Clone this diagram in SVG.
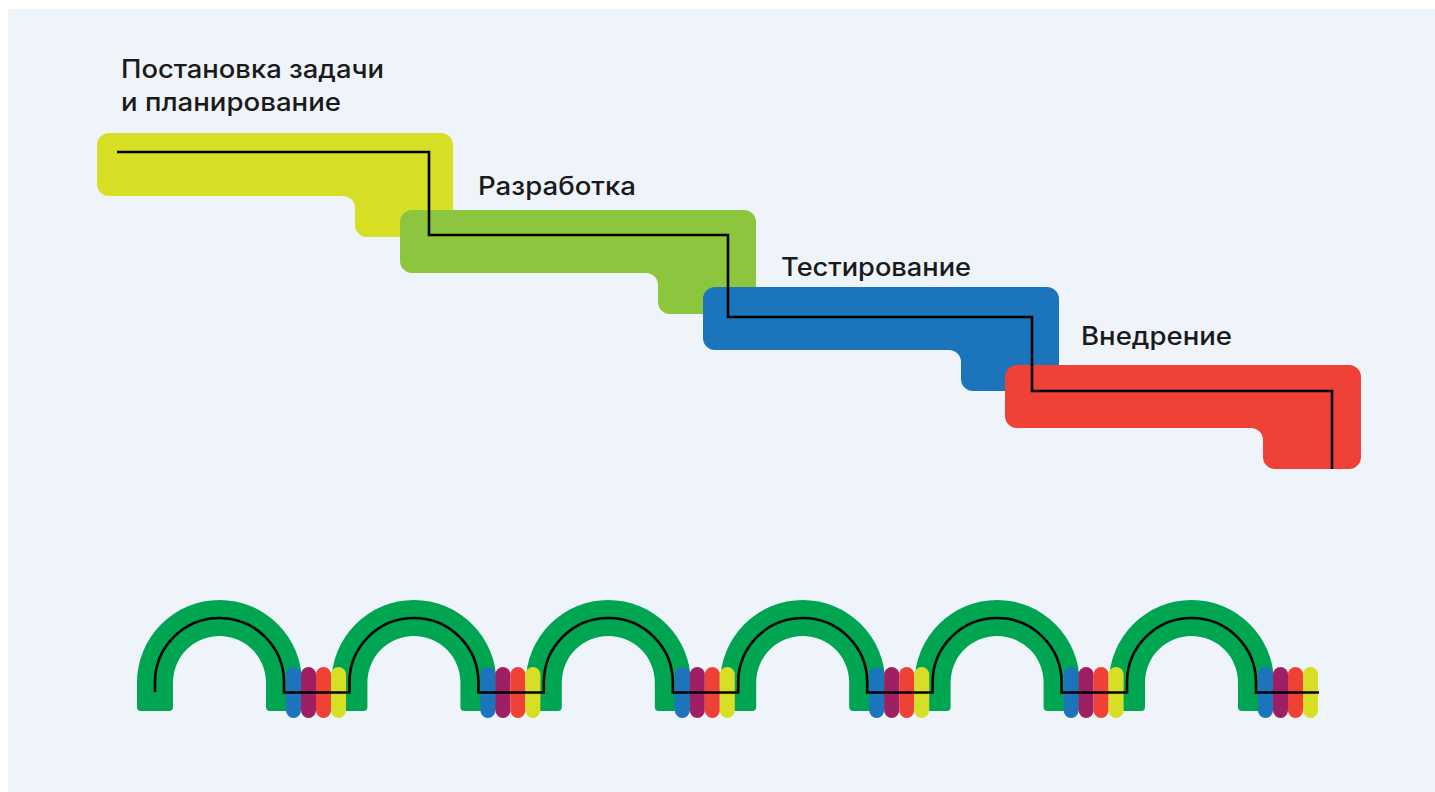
<svg xmlns="http://www.w3.org/2000/svg" xmlns:xlink="http://www.w3.org/1999/xlink" width="1435" height="792" viewBox="0 0 1435 792">
  <style>
    .label { font-family: Inter, "Noto Sans", "Liberation Sans", sans-serif; font-size: 25.5px; font-weight: 500; fill: #1a1a1a; }
    .path-line { fill: none; stroke: #000; stroke-width: 2.6; stroke-linejoin: miter; }
    .yellow { fill: #d6df23; }
    .lime { fill: #8cc63f; }
    .blue { fill: #1c75bc; }
    .red { fill: #ef4136; }
    .purple { fill: #9e1f63; }
    .arch { fill: #00a551; }
  </style>
  <defs>
    <!-- stage block: wide bar with a short tab hanging below its right end -->
    <path id="stepShape" d="M12,0 H344 A12,12 0 0 1 356,12 V92 A12,12 0 0 1 344,104 H270 A12,12 0 0 1 258,92 V75 A12,12 0 0 0 246,63 H12 A12,12 0 0 1 0,51 V12 A12,12 0 0 1 12,0 Z"/>
    <!-- thick arch centred on x=0 -->
    <path id="archShape" d="M-82.5,707 V682.5 A82.5,82.5 0 0 1 82.5,682.5 V707 Q82.5,711 78.5,711 H50.5 Q46.5,711 46.5,707 V682.5 A46.5,46.5 0 0 0 -46.5,682.5 V707 Q-46.5,711 -50.5,711 H-78.5 Q-82.5,711 -82.5,707 Z"/>
    <!-- four coloured pills between arches -->
    <g id="pillSet">
      <rect class="blue" x="286" y="667" width="15" height="51" rx="7.5"/>
      <rect class="purple" x="301" y="667" width="15" height="51" rx="7.5"/>
      <rect class="red" x="316" y="667" width="15" height="51" rx="7.5"/>
      <rect class="yellow" x="331" y="667" width="15" height="51" rx="7.5"/>
    </g>
  </defs>

  <rect x="8" y="9" width="1427" height="783" fill="#eff3fa"/>

  <g id="stage-planning">
    <use xlink:href="#stepShape" href="#stepShape" class="yellow" transform="translate(97,133)"/>
    <text class="label" x="121" y="78" textLength="263" lengthAdjust="spacingAndGlyphs">Постановка задачи</text>
    <text class="label" x="121" y="111" textLength="220" lengthAdjust="spacingAndGlyphs">и планирование</text>
  </g>
  <g id="stage-development">
    <use xlink:href="#stepShape" href="#stepShape" class="lime" transform="translate(400,210)"/>
    <text class="label" x="478" y="195" textLength="158" lengthAdjust="spacingAndGlyphs">Разработка</text>
  </g>
  <g id="stage-testing">
    <use xlink:href="#stepShape" href="#stepShape" class="blue" transform="translate(703,287)"/>
    <text class="label" x="781" y="276" textLength="190" lengthAdjust="spacingAndGlyphs">Тестирование</text>
  </g>
  <g id="stage-deployment">
    <use xlink:href="#stepShape" href="#stepShape" class="red" transform="translate(1005,365)"/>
    <text class="label" x="1081" y="345" textLength="151" lengthAdjust="spacingAndGlyphs">Внедрение</text>
  </g>

  <g id="connectors">
    <path class="path-line" d="M117,152 H429 V235 H728 V317 H1032 V391 H1332 V469"/>
  </g>

  <g id="iterations">
    <use xlink:href="#archShape" href="#archShape" class="arch" transform="translate(219.5,0)"/>
    <use xlink:href="#archShape" href="#archShape" class="arch" transform="translate(413.9,0)"/>
    <use xlink:href="#archShape" href="#archShape" class="arch" transform="translate(608.3,0)"/>
    <use xlink:href="#archShape" href="#archShape" class="arch" transform="translate(802.7,0)"/>
    <use xlink:href="#archShape" href="#archShape" class="arch" transform="translate(997.1,0)"/>
    <use xlink:href="#archShape" href="#archShape" class="arch" transform="translate(1191.5,0)"/>

    <use xlink:href="#pillSet" href="#pillSet" transform="translate(0,0)"/>
    <use xlink:href="#pillSet" href="#pillSet" transform="translate(194.4,0)"/>
    <use xlink:href="#pillSet" href="#pillSet" transform="translate(388.8,0)"/>
    <use xlink:href="#pillSet" href="#pillSet" transform="translate(583.2,0)"/>
    <use xlink:href="#pillSet" href="#pillSet" transform="translate(777.6,0)"/>
    <use xlink:href="#pillSet" href="#pillSet" transform="translate(972,0)"/>

    <path class="path-line" d="M155,692 V682.5 A64.5,64.5 0 0 1 284,682.5 V692.5 H349.4 V682.5 A64.5,64.5 0 0 1 478.4,682.5 V692.5 H543.8 V682.5 A64.5,64.5 0 0 1 672.8,682.5 V692.5 H738.2 V682.5 A64.5,64.5 0 0 1 867.2,682.5 V692.5 H932.6 V682.5 A64.5,64.5 0 0 1 1061.6,682.5 V692.5 H1127 V682.5 A64.5,64.5 0 0 1 1256,682.5 V692.5 H1319"/>
  </g>
</svg>
